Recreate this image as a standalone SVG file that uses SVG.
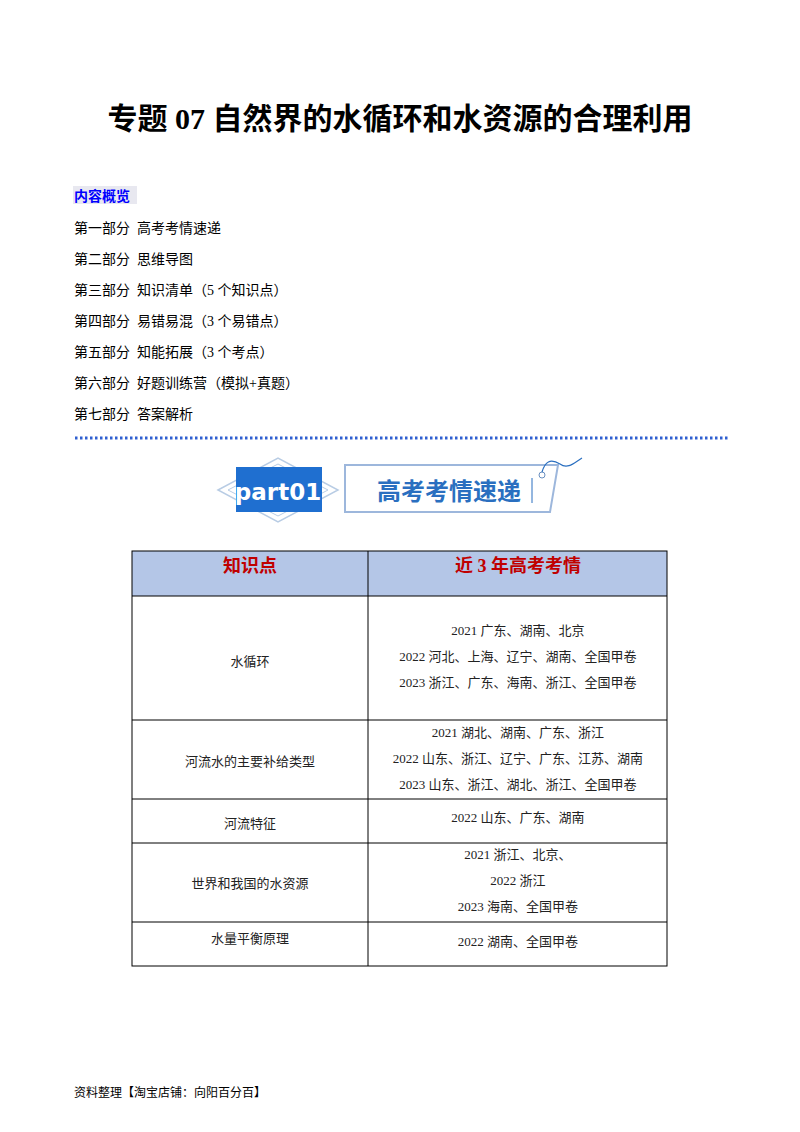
<svg xmlns="http://www.w3.org/2000/svg" width="800" height="1132" viewBox="0 0 800 1132">
<style>
.t{font-family:"Liberation Serif","Noto Sans CJK SC",serif;font-size:14px;fill:#000;white-space:pre}
.c{font-family:"Liberation Serif","Noto Sans CJK SC",serif;font-size:13px;fill:#222;text-anchor:middle}
.h{font-family:"Liberation Serif","Noto Sans CJK SC",serif;font-size:18px;font-weight:bold;fill:#c00000;text-anchor:middle}
</style>
<rect width="800" height="1132" fill="#fff"/>
<text x="400" y="129" text-anchor="middle" style="font-family:'Liberation Serif','Noto Sans CJK SC',serif;font-size:30px;font-weight:bold">专题 07 自然界的水循环和水资源的合理利用</text>
<rect x="73" y="186" width="64" height="18" fill="#e8e8f0"/>
<text x="74" y="201" style="font-family:'Noto Sans CJK SC',sans-serif;font-size:14px;font-weight:bold;fill:#0000ff">内容概览</text>
<g>
<text x="74" y="233" class="t" xml:space="preserve">第一部分  高考考情速递</text>
<text x="74" y="264" class="t" xml:space="preserve">第二部分  思维导图</text>
<text x="74" y="295" class="t" xml:space="preserve">第三部分  知识清单（5 个知识点）</text>
<text x="74" y="326" class="t" xml:space="preserve">第四部分  易错易混（3 个易错点）</text>
<text x="74" y="357" class="t" xml:space="preserve">第五部分  知能拓展（3 个考点）</text>
<text x="74" y="388" class="t" xml:space="preserve">第六部分  好题训练营（模拟+真题）</text>
<text x="74" y="419" class="t" xml:space="preserve">第七部分  答案解析</text>
</g>
<line x1="75" y1="438" x2="728" y2="438" stroke="#2f5fd0" stroke-width="3" stroke-dasharray="2.5 2.5"/>
<g id="banner">
<path d="M218 490 L278 458 L338 490 L278 522 Z" fill="none" stroke="#b8cce4" stroke-width="1.5"/>
<path d="M228 490 L278 464 L328 490 L278 516 Z" fill="none" stroke="#b8cce4" stroke-width="1"/>
<rect x="236" y="467" width="86" height="45" fill="#1f6fd0"/>
<text x="278" y="500" text-anchor="middle" style="font-family:'DejaVu Sans',sans-serif;font-size:23px;font-weight:bold;fill:#fff">part01</text>
<path d="M345 465 L558 465 L550 512 L345 512 Z" fill="#fff" stroke="#9db7dc" stroke-width="2"/>
<text x="449" y="500" text-anchor="middle" style="font-family:'Noto Sans CJK SC',sans-serif;font-size:24px;font-weight:bold;fill:#2a6fc0">高考考情速递</text>
<line x1="532" y1="478" x2="532" y2="503" stroke="#2a6fc0"/>
<circle cx="542" cy="475" r="3" fill="none" stroke="#6a8fc0"/>
<path d="M542 472 C545 462 550 458 560 464 C568 470 575 462 582 458" fill="none" stroke="#2a6fc0" stroke-width="1.2"/>
</g>
<g id="table">
<rect x="132" y="551" width="535" height="45" fill="#b4c6e7"/>
<g fill="none" stroke="#000" stroke-width="1">
<rect x="132" y="551" width="535" height="415"/>
<line x1="368" y1="551" x2="368" y2="966"/>
<line x1="132" y1="596" x2="667" y2="596"/>
<line x1="132" y1="720" x2="667" y2="720"/>
<line x1="132" y1="799" x2="667" y2="799"/>
<line x1="132" y1="843" x2="667" y2="843"/>
<line x1="132" y1="922" x2="667" y2="922"/>
</g>
<text x="250" y="572" class="h">知识点</text>
<text x="518" y="572" class="h">近 3 年高考考情</text>
<text x="250" y="666" class="c">水循环</text>
<text x="518" y="635" class="c">2021 广东、湖南、北京</text>
<text x="518" y="661" class="c">2022 河北、上海、辽宁、湖南、全国甲卷</text>
<text x="518" y="687" class="c">2023 浙江、广东、海南、浙江、全国甲卷</text>
<text x="250" y="766" class="c">河流水的主要补给类型</text>
<text x="518" y="737" class="c">2021 湖北、湖南、广东、浙江</text>
<text x="518" y="763" class="c">2022 山东、浙江、辽宁、广东、江苏、湖南</text>
<text x="518" y="789" class="c">2023 山东、浙江、湖北、浙江、全国甲卷</text>
<text x="250" y="828" class="c">河流特征</text>
<text x="518" y="822" class="c">2022 山东、广东、湖南</text>
<text x="250" y="888" class="c">世界和我国的水资源</text>
<text x="518" y="859" class="c">2021 浙江、北京、</text>
<text x="518" y="885" class="c">2022 浙江</text>
<text x="518" y="911" class="c">2023 海南、全国甲卷</text>
<text x="250" y="943" class="c">水量平衡原理</text>
<text x="518" y="946" class="c">2022 湖南、全国甲卷</text>
</g>
<text x="74" y="1097" style="font-family:'Liberation Serif','Noto Sans CJK SC',serif;font-size:12px">资料整理【淘宝店铺：向阳百分百】</text>
</svg>
